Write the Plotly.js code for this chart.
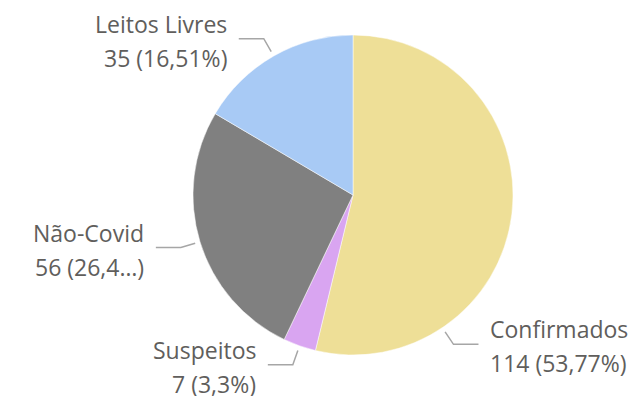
<!DOCTYPE html>
<html>
<head>
<meta charset="utf-8">
<script src="https://cdn.plot.ly/plotly-3.0.1.min.js"></script>
<style>html,body{margin:0;padding:0;background:#fff;}#chart{width:637px;height:396px;}</style>
</head>
<body>
<div id="chart"></div>
<script>
// ---- data ----
const categories = ["Confirmados", "Suspeitos", "Não-Covid", "Leitos Livres"];
const values = [114, 7, 56, 35];
const valueTexts = ["114 (53,77%)", "7 (3,3%)", "56 (26,4…)", "35 (16,51%)"];
const colors = ["#EEDF97", "#D9A5F1", "#808080", "#A8CAF5"];

// ---- layout geometry ----
const W = 637, H = 396;
const CX = 353, CY = 195, R = 160;
const FONT_FAMILY = "'Segoe UI', 'Open Sans', sans-serif";
const FONT_SIZE = 23;
const TEXT_COLOR = "#605E5C";
const LINE_COLOR = "#A6A6A6";

const domain = {
  x: [(CX - R) / W, (CX + R) / W],
  y: [1 - (CY + R) / H, 1 - (CY - R) / H]
};

function measure(txt) {
  const c = document.createElement("canvas").getContext("2d");
  c.font = FONT_SIZE + "px 'Open Sans'";
  return c.measureText(txt).width;
}

const total = values.reduce((a, b) => a + b, 0);
const px = x => x / W;
const py = y => 1 - y / H;

const shapes = [];
const annotations = [];
let cum = 0;
values.forEach((v, i) => {
  const a0 = cum / total * 2 * Math.PI;
  cum += v;
  const a1 = cum / total * 2 * Math.PI;
  let th = (a0 + a1) / 2;
  const right = Math.sin(th) >= 0;
  const tw = Math.max(measure(categories[i]), measure(valueTexts[i]));
  const fits = t => {
    const ex = CX + (R + 20) * Math.sin(t);
    return right ? ex + 35 + tw <= W - 10 : ex - 35 - tw >= 10;
  };
  // slide the leader along the slice toward the bottom until the label fits
  let guard = 0;
  while (!fits(th) && guard < 600) {
    const nt = th + (th < Math.PI ? 1 : -1) * 0.005;
    if (nt > a1 || nt < a0) break;
    th = nt;
    guard++;
  }
  const sx = CX + (R + 5) * Math.sin(th), sy = CY - (R + 5) * Math.cos(th);
  const ex = CX + (R + 20) * Math.sin(th), ey = CY - (R + 20) * Math.cos(th);
  const hx = ex + (right ? 25 : -25);
  shapes.push({
    type: "path", xref: "paper", yref: "paper",
    path: `M ${px(sx)},${py(sy)} L ${px(ex)},${py(ey)} L ${px(hx)},${py(ey)}`,
    line: {color: LINE_COLOR, width: 1.5}
  });
  const tx = hx + (right ? 10 : -10);
  [[categories[i], -15], [valueTexts[i], 19]].forEach(([t, dy]) => {
    annotations.push({
      xref: "paper", yref: "paper", x: px(tx), y: py(ey + dy),
      xanchor: right ? "left" : "right", yanchor: "middle",
      text: t, showarrow: false,
      font: {family: FONT_FAMILY, size: FONT_SIZE, color: TEXT_COLOR}
    });
  });
});

const trace = {
  type: "pie",
  labels: categories,
  values: values,
  sort: false,
  direction: "clockwise",
  rotation: 0,
  textinfo: "none",
  marker: {colors: colors, line: {color: "#ffffff", width: 0.5}},
  domain: domain,
  showlegend: false,
  hoverinfo: "label+value+percent"
};

Plotly.newPlot("chart", [trace], {
  width: W, height: H,
  margin: {l: 0, r: 0, t: 0, b: 0},
  paper_bgcolor: "#ffffff",
  showlegend: false,
  shapes: shapes,
  annotations: annotations
}, {displayModeBar: false, staticPlot: true});
</script>
</body>
</html>
